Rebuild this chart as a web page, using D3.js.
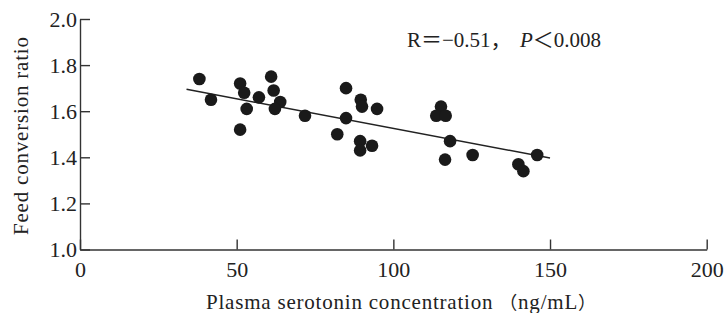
<!DOCTYPE html>
<html>
<head>
<meta charset="utf-8">
<script src="https://cdn.jsdelivr.net/npm/d3@7"></script>
<style>
	html, body { margin: 0; padding: 0; background: #fff; }
</style>
</head>
<body>
<div id="chart"></div>
<script>
// Data
var serotonin = [38.1, 41.8, 51.1, 52.4, 53.2, 51.1, 57.1, 61.0, 61.8, 63.9, 62.2, 71.8, 84.9, 89.6, 90.0,
	94.8, 84.9, 82.1, 89.4, 93.2, 89.4, 115.2, 113.7, 116.7, 118.1, 116.5, 125.3, 139.9, 141.5, 145.9];
var feedRatio = [1.74, 1.65, 1.72, 1.68, 1.61, 1.52, 1.66, 1.75, 1.69, 1.64, 1.61, 1.58, 1.70, 1.65, 1.62,
	1.61, 1.57, 1.50, 1.47, 1.45, 1.43, 1.62, 1.58, 1.58, 1.47, 1.39, 1.41, 1.37, 1.34, 1.41];

// Regression line end points
var fitX = [34, 150];
var fitY = [1.695, 1.397];

var xTicks = [0, 50, 100, 150, 200];
var yTicks = [1.0, 1.2, 1.4, 1.6, 1.8, 2.0];

var width = 724, height = 313;
var serif = "'Liberation Serif', serif";
var cjk = "'Noto Sans CJK SC'";
var ink = "#222";

var svg = d3.select("#chart")
	.append("svg")
	.attr("width", width)
	.attr("height", height);

var x = d3.scaleLinear()
	.domain([0, 200])
	.range([80, 706.7]);

var y = d3.scaleLinear()
	.domain([1.0, 2.0])
	.range([249.5, 19]);

// x axis, ticks pointing inward
svg.append("g")
	.attr("transform", "translate(0," + y(1.0) + ")")
	.call(d3.axisBottom(x).tickValues(xTicks).tickFormat(d3.format("d"))
		.tickSizeInner(-10).tickSizeOuter(0).tickPadding(12));

// y axis
svg.append("g")
	.attr("transform", "translate(" + x(0) + ",0)")
	.call(d3.axisLeft(y).tickValues(yTicks).tickFormat(d3.format(".1f"))
		.tickSizeInner(-10).tickSizeOuter(0).tickPadding(3));

svg.selectAll(".domain, .tick line")
	.attr("stroke", "#333")
	.attr("stroke-width", 1.4);

svg.selectAll(".tick text")
	.attr("font-size", 22)
	.attr("fill", ink)
	.style("font-family", serif);

// regression line
var line = d3.line()
	.x(function(d) { return x(d[0]); })
	.y(function(d) { return y(d[1]); });

svg.append("path")
	.datum(d3.zip(fitX, fitY))
	.attr("d", line)
	.attr("fill", "none")
	.attr("stroke", ink)
	.attr("stroke-width", 1.5);

// points
svg.selectAll(".dot")
	.data(d3.zip(serotonin, feedRatio))
	.enter()
	.append("circle")
	.attr("class", "dot")
	.attr("cx", function(d) { return x(d[0]); })
	.attr("cy", function(d) { return y(d[1]); })
	.attr("r", 6.3)
	.attr("fill", "#1a1a1a");

// helper: text made of runs, fullwidth signs taken from the CJK font
function runs(sel, parts) {
	parts.forEach(function(p) {
		var t = sel.append("tspan")
			.style("font-family", p.cjk ? cjk : serif)
			.text(p.t);
		if (p.x !== undefined) t.attr("x", p.x);
		if (p.italic) t.attr("font-style", "italic");
		if (p.size) t.attr("font-size", p.size);
	});
}

// axis titles
var xTitle = svg.append("text")
	.attr("x", 401)
	.attr("y", 309)
	.attr("text-anchor", "middle")
	.attr("font-size", 21)
	.attr("fill", ink)
	.attr("textLength", 390)
	.attr("lengthAdjust", "spacing");
runs(xTitle, [
	{t: "Plasma serotonin concentration "},
	{t: "（", cjk: true, size: 18},
	{t: "ng/mL"},
	{t: "）", cjk: true, size: 18}
]);

svg.append("text")
	.attr("transform", "translate(28,136) rotate(-90)")
	.attr("text-anchor", "middle")
	.attr("font-size", 21)
	.attr("fill", ink)
	.attr("textLength", 198)
	.attr("lengthAdjust", "spacing")
	.style("font-family", serif)
	.text("Feed conversion ratio");

// annotation
var note = svg.append("text")
	.attr("y", 47)
	.attr("font-size", 21)
	.attr("fill", ink);
runs(note, [
	{t: "R", x: 407},
	{t: "＝", cjk: true},
	{t: "−0.51"},
	{t: "，", cjk: true},
	{t: "P", x: 520, italic: true},
	{t: "＜", cjk: true},
	{t: "0.008"}
]);
</script>
</body>
</html>
